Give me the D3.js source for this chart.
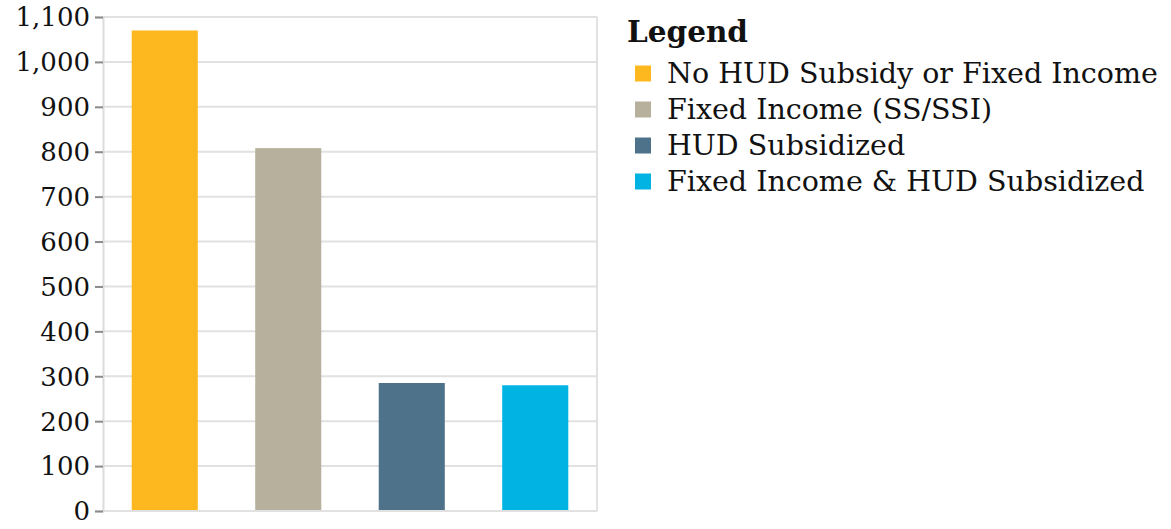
<!DOCTYPE html>
<html>
<head>
<meta charset="utf-8">
<script src="https://cdn.jsdelivr.net/npm/d3@7"></script>
<style>
  html, body { margin: 0; padding: 0; background: #fff; }
  svg { display: block; }
  text { font-family: "DejaVu Serif", Georgia, serif; fill: #111; }
</style>
</head>
<body>
<svg id="chart" width="1171" height="529"></svg>
<script>
// Household counts by income / subsidy status
const categories = [
  "No HUD Subsidy or Fixed Income",
  "Fixed Income (SS/SSI)",
  "HUD Subsidized",
  "Fixed Income & HUD Subsidized"
];
const values = [1070, 808, 285, 280];
const colors = ["#FDB71F", "#B7B09D", "#4E7289", "#00B3E3"];
const yTicks = [0, 100, 200, 300, 400, 500, 600, 700, 800, 900, 1000, 1100];
const legendTitle = "Legend";

const svg = d3.select("#chart");
const plot = { left: 103, right: 597, top: 17, bottom: 511 };

const x = d3.scaleBand()
  .domain(categories)
  .range([plot.left, plot.right])
  .paddingInner(0.465)
  .paddingOuter(0.2325);

const y = d3.scaleLinear()
  .domain([0, 1100])
  .range([plot.bottom, plot.top]);

// horizontal gridlines
svg.append("g")
  .selectAll("line")
  .data(yTicks)
  .join("line")
  .attr("x1", plot.left).attr("x2", plot.right)
  .attr("y1", d => y(d)).attr("y2", d => y(d))
  .attr("stroke", "#e1e1e1")
  .attr("stroke-width", 2);

// frame right side
svg.append("line")
  .attr("x1", plot.right).attr("x2", plot.right)
  .attr("y1", plot.top).attr("y2", plot.bottom)
  .attr("stroke", "#e1e1e1").attr("stroke-width", 2);

// bars
svg.append("g")
  .selectAll("rect")
  .data(categories)
  .join("rect")
  .attr("x", d => x(d))
  .attr("width", x.bandwidth())
  .attr("y", (d, i) => y(values[i]))
  .attr("height", (d, i) => y(0) - y(values[i]))
  .attr("fill", (d, i) => colors[i]);

// bottom baseline
svg.append("line")
  .attr("x1", plot.left).attr("x2", plot.right)
  .attr("y1", plot.bottom).attr("y2", plot.bottom)
  .attr("stroke", "#e1e1e1").attr("stroke-width", 2);

// y axis
const yAxis = d3.axisLeft(y)
  .tickValues(yTicks)
  .tickFormat(d3.format(","))
  .tickSize(8)
  .tickPadding(5);

const gy = svg.append("g")
  .attr("transform", `translate(${plot.left},0)`)
  .call(yAxis);
gy.select(".domain").attr("stroke", "#dcdcdc").attr("stroke-width", 2);
gy.selectAll(".tick line").attr("stroke", "#8a8a8a").attr("stroke-width", 2);
gy.selectAll(".tick text")
  .attr("font-family", "DejaVu Serif, serif")
  .attr("font-size", 26)
  .attr("fill", "#111")
  .attr("dy", "0.34em");

// legend
const legend = svg.append("g").attr("transform", "translate(627,0)");
legend.append("text")
  .attr("x", 0).attr("y", 42)
  .attr("font-size", 29.5)
  .attr("font-weight", "bold")
  .text(legendTitle);

const rows = legend.selectAll("g.row")
  .data(categories)
  .join("g")
  .attr("class", "row")
  .attr("transform", (d, i) => `translate(0,${82.5 + i * 36})`);
rows.append("rect")
  .attr("x", 8).attr("y", -17)
  .attr("width", 16).attr("height", 16)
  .attr("fill", (d, i) => colors[i]);
rows.append("text")
  .attr("x", 40).attr("y", 0)
  .attr("font-size", 28.5)
  .text(d => d);
</script>
</body>
</html>
